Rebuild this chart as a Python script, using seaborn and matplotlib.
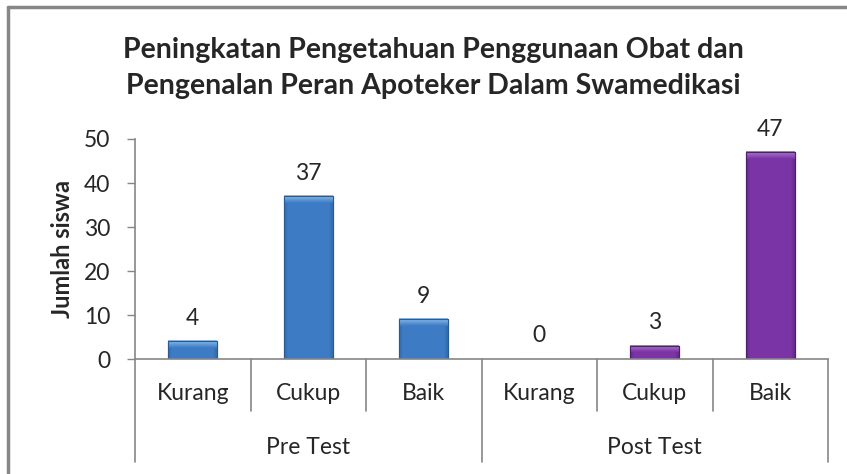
import numpy as np
import pandas as pd
import seaborn as sns
import matplotlib.pyplot as plt
from matplotlib.lines import Line2D
from matplotlib.colors import to_rgb

# data
categories = ['Kurang', 'Cukup', 'Baik']
groups = ['Pre Test', 'Post Test']
pre_values = [4, 37, 9]
post_values = [0, 3, 47]

df = pd.DataFrame({
    'kategori': categories * 2,
    'tes': [groups[0]] * 3 + [groups[1]] * 3,
    'jumlah': pre_values + post_values,
})
df['pos'] = [f'{t}-{k}' for t, k in zip(df['tes'], df['kategori'])]

sns.set_style('white')
plt.rcParams['font.family'] = ['Lato', 'DejaVu Sans']

fig = plt.figure(figsize=(8.47, 4.74), dpi=100)
ax = fig.add_axes([135 / 847, 1 - 359 / 474, (828 - 135) / 847, (359 - 139) / 474])

palette = {'Pre Test': '#3D7BC4', 'Post Test': '#7A34A5'}
edges = {'Pre Test': '#2A5A92', 'Post Test': '#4E1D6B'}
lights = {'Pre Test': '#8EC0F0', 'Post Test': '#B27AD8'}
sns.barplot(data=df, x='pos', y='jumlah', hue='tes', palette=palette,
            dodge=False, width=0.42, legend=False, ax=ax, saturation=1)

# simple bevel look: light band on top, darker sides
for patch, tes in zip(ax.patches, df['tes']):
    patch.set_edgecolor(edges[tes])
    patch.set_linewidth(0.8)
    h = patch.get_height()
    if h <= 0:
        continue
    x0, w = patch.get_x(), patch.get_width()
    band = min(1.6, h * 0.5)
    base = np.array(to_rgb(palette[tes]))
    light = np.array(to_rgb(lights[tes]))
    dark = np.array(to_rgb(edges[tes]))
    t = np.linspace(0, 1, 20)[:, None]
    top = (light * (1 - t) + base * t)[:, None, :]
    ax.imshow(top, extent=[x0, x0 + w, h - band, h], aspect='auto',
              interpolation='bilinear', zorder=patch.get_zorder() + 0.1)
    s = np.linspace(0, 1, 20)[None, :, None]
    side_l = dark * (1 - s) * 0.5 + base * (1 - (1 - s) * 0.5)
    sw = w * 0.08
    ax.imshow(side_l, extent=[x0, x0 + sw, 0, h - band], aspect='auto',
              interpolation='bilinear', zorder=patch.get_zorder() + 0.1)
    ax.imshow(side_l[:, ::-1, :], extent=[x0 + w - sw, x0 + w, 0, h - band], aspect='auto',
              interpolation='bilinear', zorder=patch.get_zorder() + 0.1)
    outline = plt.Rectangle((x0, 0), w, h, fill=False, edgecolor=edges[tes],
                            lw=0.8, zorder=patch.get_zorder() + 0.2)
    ax.add_patch(outline)

for i, v in enumerate(df['jumlah']):
    ax.annotate(str(v), (i, v), xytext=(0, 9), textcoords='offset points',
                ha='center', va='bottom', fontsize=16.5)

ax.set_ylim(0, 50)
ax.set_yticks(range(0, 51, 10))
ax.set_xlim(-0.5, 5.5)
ax.set_xticks([])
ax.set_xlabel('')
ax.set_ylabel('Jumlah siswa', fontsize=17, fontweight='bold', labelpad=7)
ax.tick_params(axis='y', labelsize=16.5, length=6, width=1, color='#868686',
               direction='out', left=True, pad=12)
for s in ['top', 'right']:
    ax.spines[s].set_visible(False)
for s in ['left', 'bottom']:
    ax.spines[s].set_color('#868686')
    ax.spines[s].set_linewidth(1.2)

# two-level category axis
trans = ax.get_xaxis_transform()
for i, k in enumerate(df['kategori']):
    ax.text(i, -0.155, k, transform=trans, ha='center', va='center', fontsize=16.5)
for j, g in enumerate(groups):
    ax.text(j * 3 + 1, -0.40, g, transform=trans, ha='center', va='center', fontsize=16.5)
for x in [0.5, 1.5, 3.5, 4.5]:
    ax.add_line(Line2D([x, x], [0, -0.235], transform=trans, color='#868686',
                       lw=1.2, clip_on=False))
for x in [-0.5, 2.5, 5.5]:
    ax.add_line(Line2D([x, x], [0, -0.47], transform=trans, color='#868686',
                       lw=1.2, clip_on=False))

fig.text(0.512, 1 - 68 / 474,
         'Peningkatan Pengetahuan Penggunaan Obat dan\nPengenalan Peran Apoteker Dalam Swamedikasi',
         ha='center', va='center', fontsize=20.5, fontweight='bold', linespacing=1.45)

# chart border
fig.add_artist(Line2D([8 / 847, 8 / 847], [0, 1 - 7 / 474], color='#878787', lw=2.5,
                      transform=fig.transFigure))
fig.add_artist(Line2D([8 / 847, 1], [1 - 7 / 474, 1 - 7 / 474], color='#878787', lw=2.5,
                      transform=fig.transFigure))

fig.savefig('out.png', dpi=100)
